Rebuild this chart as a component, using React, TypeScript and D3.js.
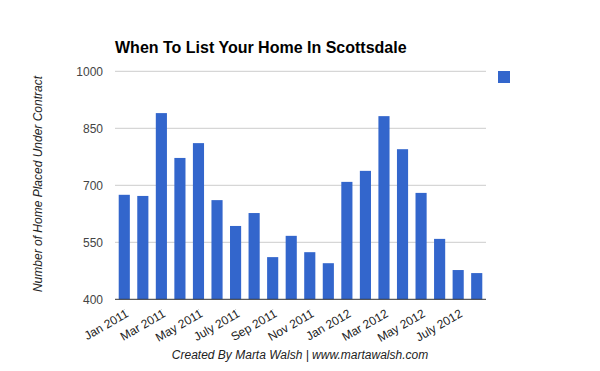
import React from "react";
import * as d3 from "d3";

const months = [
  "Jan 2011", "Feb 2011", "Mar 2011", "Apr 2011", "May 2011", "Jun 2011",
  "July 2011", "Aug 2011", "Sep 2011", "Oct 2011", "Nov 2011", "Dec 2011",
  "Jan 2012", "Feb 2012", "Mar 2012", "Apr 2012", "May 2012", "Jun 2012",
  "July 2012", "Aug 2012",
];
const homes = [675, 672, 890, 772, 811, 661, 593, 627, 511, 567, 524, 495, 709, 738, 882, 795, 680, 559, 477, 469];
const yTicks = [400, 550, 700, 850, 1000];

const W = 600, H = 371;
const left = 115, right = 486, top = 71.3, bottom = 299.3;
const FONT = "Arial, 'Liberation Sans', sans-serif";

export default function App() {
  const x = d3.scaleBand<string>().domain(months).range([left, right]).paddingInner(0.4).paddingOuter(0.2);
  const y = d3.scaleLinear().domain([400, 1000]).range([bottom, top]);
  return (
    <svg width={W} height={H} style={{ position: "absolute", left: 0, top: 0 }} fontFamily={FONT}>
      <rect width={W} height={H} fill="#fff" />
      <text x={115} y={52.5} fontSize={16} fontWeight="bold" fill="#000">When To List Your Home In Scottsdale</text>
      {yTicks.map((t) => (
        <g key={t}>
          {t !== 400 && <line x1={left} x2={right} y1={y(t)} y2={y(t)} stroke="#ccc" strokeWidth={1} />}
          <text x={103} y={y(t)} dy="0.35em" textAnchor="end" fontSize={12} fill="#444">{t}</text>
        </g>
      ))}
      {months.map((m, i) => (
        <rect key={m} x={x(m)} y={y(homes[i])} width={x.bandwidth()} height={bottom - y(homes[i])} fill="#3366cc" />
      ))}
      <line x1={left} x2={right} y1={bottom} y2={bottom} stroke="#333" strokeWidth={1} />
      {months.map((m, i) => {
        if (i % 2 !== 0) return null;
        const cx = (x(m) as number) + x.bandwidth() / 2;
        return (
          <g key={m}>
            <rect x={cx - 0.5} y={309} width={1} height={1} fill="#ccc" />
            <text transform={`translate(${cx + 5},${316}) rotate(-30)`} textAnchor="end" fontSize={12} fill="#222">{m}</text>
          </g>
        );
      })}
      <text transform={`translate(42,184) rotate(-90)`} textAnchor="middle" fontSize={12} fontStyle="italic" fill="#222">Number of Home Placed Under Contract</text>
      <rect x={498} y={71} width={12} height={12} fill="#3366cc" />
      <text x={300} y={359} textAnchor="middle" fontSize={12} fontStyle="italic" fill="#222">Created By Marta Walsh | www.martawalsh.com</text>
    </svg>
  );
}
